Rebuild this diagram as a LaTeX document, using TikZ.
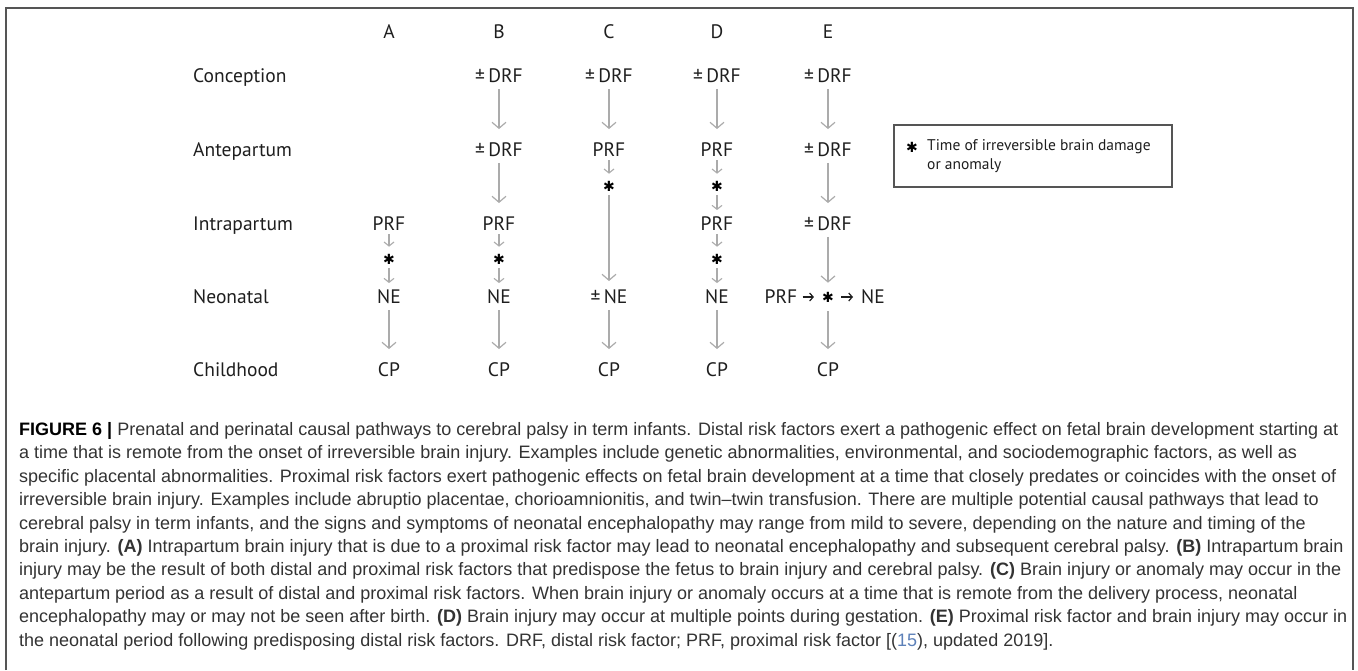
\documentclass[tikz,border=0pt]{standalone}
\usepackage{fontspec}
\setmainfont{Liberation Sans}
\newfontfamily\labelfont{PT Sans}
\newfontfamily\symfont{DejaVu Sans}
\usetikzlibrary{arrows.meta}
\definecolor{framegray}{HTML}{555555}
\definecolor{arrowgray}{HTML}{ABABAB}
\definecolor{labelgray}{HTML}{1E1E1E}
\definecolor{captiongray}{HTML}{333333}
\definecolor{refblue}{HTML}{5C80B8}

\begin{document}
\begin{tikzpicture}
  [
    x=1pt,
    y=-1pt,
    lab/.style={
      font=\labelfont\fontsize{19.5}{19.5}\selectfont,
      text=labelgray,
      text height=13.5pt,
      text depth=0pt,
      inner sep=0pt
    },
    rowlab/.style={
      lab,
      anchor=west
    },
    star/.style={
      font=\symfont\fontsize{14}{14}\selectfont,
      inner sep=0pt
    },
    longarr/.style={
      arrowgray,
      line width=1.2pt,
      -{Straight Barb[length=6pt,width=14pt]},
      shorten <=6pt,
      shorten >=14pt
    },
    shortarr/.style={
      arrowgray,
      line width=1.1pt,
      -{Straight Barb[length=4pt,width=10pt]},
      shorten <=3.5pt,
      shorten >=7pt
    },
    inarr/.style={
      labelgray,
      line width=1.2pt,
      -{Straight Barb[length=3.5pt,width=8pt]}
    }
  ]
  \useasboundingbox (0,0) rectangle (1358,670);

  % frame
  \draw [framegray, line width=1.6pt] (6,670) -- (6,8) -- (1353,8) -- (1353,670);

  % columns and periods
  \foreach \c/\x in {A/389,B/499,C/609,D/717,E/828}
    \node [lab] (h\c) at (\x,32) {\c};
  \foreach \r/\y in {Conception/76,Antepartum/150,Intrapartum/224,Neonatal/297,Childhood/370}
    \node [rowlab] (r\r) at (193,\y) {\r};

  % pathway A
  \node [lab] (aPRF) at (389,224) {PRF};
  \node [star] (aS) at (389,259) {✱};
  \node [lab] (aNE) at (389,297) {NE};
  \node [lab] (aCP) at (389,370) {CP};
  \draw [shortarr] (aPRF) -- (aS);
  \draw [shortarr] (aS) -- (aNE);
  \draw [longarr] (aNE) -- (aCP);

  % pathway B
  \node [lab] (bDRFa) at (499,76) {±\,DRF};
  \node [lab] (bDRFb) at (499,150) {±\,DRF};
  \node [lab] (bPRF) at (499,224) {PRF};
  \node [star] (bS) at (499,259) {✱};
  \node [lab] (bNE) at (499,297) {NE};
  \node [lab] (bCP) at (499,370) {CP};
  \draw [longarr] (bDRFa) -- (bDRFb);
  \draw [longarr] (bDRFb) -- (bPRF);
  \draw [shortarr] (bPRF) -- (bS);
  \draw [shortarr] (bS) -- (bNE);
  \draw [longarr] (bNE) -- (bCP);

  % pathway C
  \node [lab] (cDRF) at (609,76) {±\,DRF};
  \node [lab] (cPRF) at (609,150) {PRF};
  \node [star] (cS) at (609,186) {✱};
  \node [lab] (cNE) at (609,297) {±\,NE};
  \node [lab] (cCP) at (609,370) {CP};
  \draw [longarr] (cDRF) -- (cPRF);
  \draw [shortarr] (cPRF) -- (cS);
  \draw [longarr, shorten <=4pt, shorten >=9pt] (cS) -- (cNE);
  \draw [longarr] (cNE) -- (cCP);

  % pathway D
  \node [lab] (dDRF) at (717,76) {±\,DRF};
  \node [lab] (dPRFa) at (717,150) {PRF};
  \node [star] (dSa) at (717,186) {✱};
  \node [lab] (dPRFb) at (717,224) {PRF};
  \node [star] (dSb) at (717,259) {✱};
  \node [lab] (dNE) at (717,297) {NE};
  \node [lab] (dCP) at (717,370) {CP};
  \draw [longarr] (dDRF) -- (dPRFa);
  \draw [shortarr] (dPRFa) -- (dSa);
  \draw [shortarr] (dSa) -- (dPRFb);
  \draw [shortarr] (dPRFb) -- (dSb);
  \draw [shortarr] (dSb) -- (dNE);
  \draw [longarr] (dNE) -- (dCP);

  % pathway E
  \node [lab] (eDRFa) at (828,76) {±\,DRF};
  \node [lab] (eDRFb) at (828,150) {±\,DRF};
  \node [lab] (eDRFc) at (828,224) {±\,DRF};
  \node [star] (eS) at (828,297) {✱};
  \node [lab] (ePRF) at (781,297) {PRF};
  \node [lab] (eNE) at (873,297) {NE};
  \node [lab] (eCP) at (828,370) {CP};
  \draw [longarr] (eDRFa) -- (eDRFb);
  \draw [longarr] (eDRFb) -- (eDRFc);
  \draw [longarr, shorten >=9pt] (eDRFc) -- (eS);
  \draw [inarr, shorten <=5pt, shorten >=8pt] (ePRF) -- (eS);
  \draw [inarr, shorten <=7pt, shorten >=8pt] (eS) -- (eNE);
  \draw [longarr, shorten <=9pt] (eS) -- (eCP);

  % key
  \node [draw=framegray, line width=1.2pt, minimum width=278pt, minimum height=62pt, inner sep=0pt] (key) at (1033,156) {};
  \node [star] (keyS) at (912,147) {✱};
  \node [anchor=west, align=left, inner sep=0pt, text=labelgray, font=\labelfont\fontsize{15.5}{19.5}\selectfont] (keyT) at (927,156) {Time of irreversible brain damage\\or anomaly};

  % caption
  \node [anchor=north west, align=left, inner sep=0pt, text=captiongray,
         font=\fontsize{18}{23.45}\selectfont] (caption) at (19,422) {%
    {\color{black}\bfseries FIGURE 6 |} Prenatal and perinatal causal pathways to cerebral palsy in term infants. Distal risk factors exert a pathogenic effect on fetal brain development starting at\\
    a time that is remote from the onset of irreversible brain injury. Examples include genetic abnormalities, environmental, and sociodemographic factors, as well as\\
    specific placental abnormalities. Proximal risk factors exert pathogenic effects on fetal brain development at a time that closely predates or coincides with the onset of\\
    irreversible brain injury. Examples include abruptio placentae, chorioamnionitis, and twin--twin transfusion. There are multiple potential causal pathways that lead to\\
    cerebral palsy in term infants, and the signs and symptoms of neonatal encephalopathy may range from mild to severe, depending on the nature and timing of the\\
    brain injury. \textbf{(A)} Intrapartum brain injury that is due to a proximal risk factor may lead to neonatal encephalopathy and subsequent cerebral palsy. \textbf{(B)} Intrapartum brain\\
    injury may be the result of both distal and proximal risk factors that predispose the fetus to brain injury and cerebral palsy. \textbf{(C)} Brain injury or anomaly may occur in the\\
    antepartum period as a result of distal and proximal risk factors. When brain injury or anomaly occurs at a time that is remote from the delivery process, neonatal\\
    encephalopathy may or may not be seen after birth. \textbf{(D)} Brain injury may occur at multiple points during gestation. \textbf{(E)} Proximal risk factor and brain injury may occur in\\
    the neonatal period following predisposing distal risk factors. DRF, distal risk factor; PRF, proximal risk factor [({\color{refblue}15}), updated 2019].};
\end{tikzpicture}
\end{document}
